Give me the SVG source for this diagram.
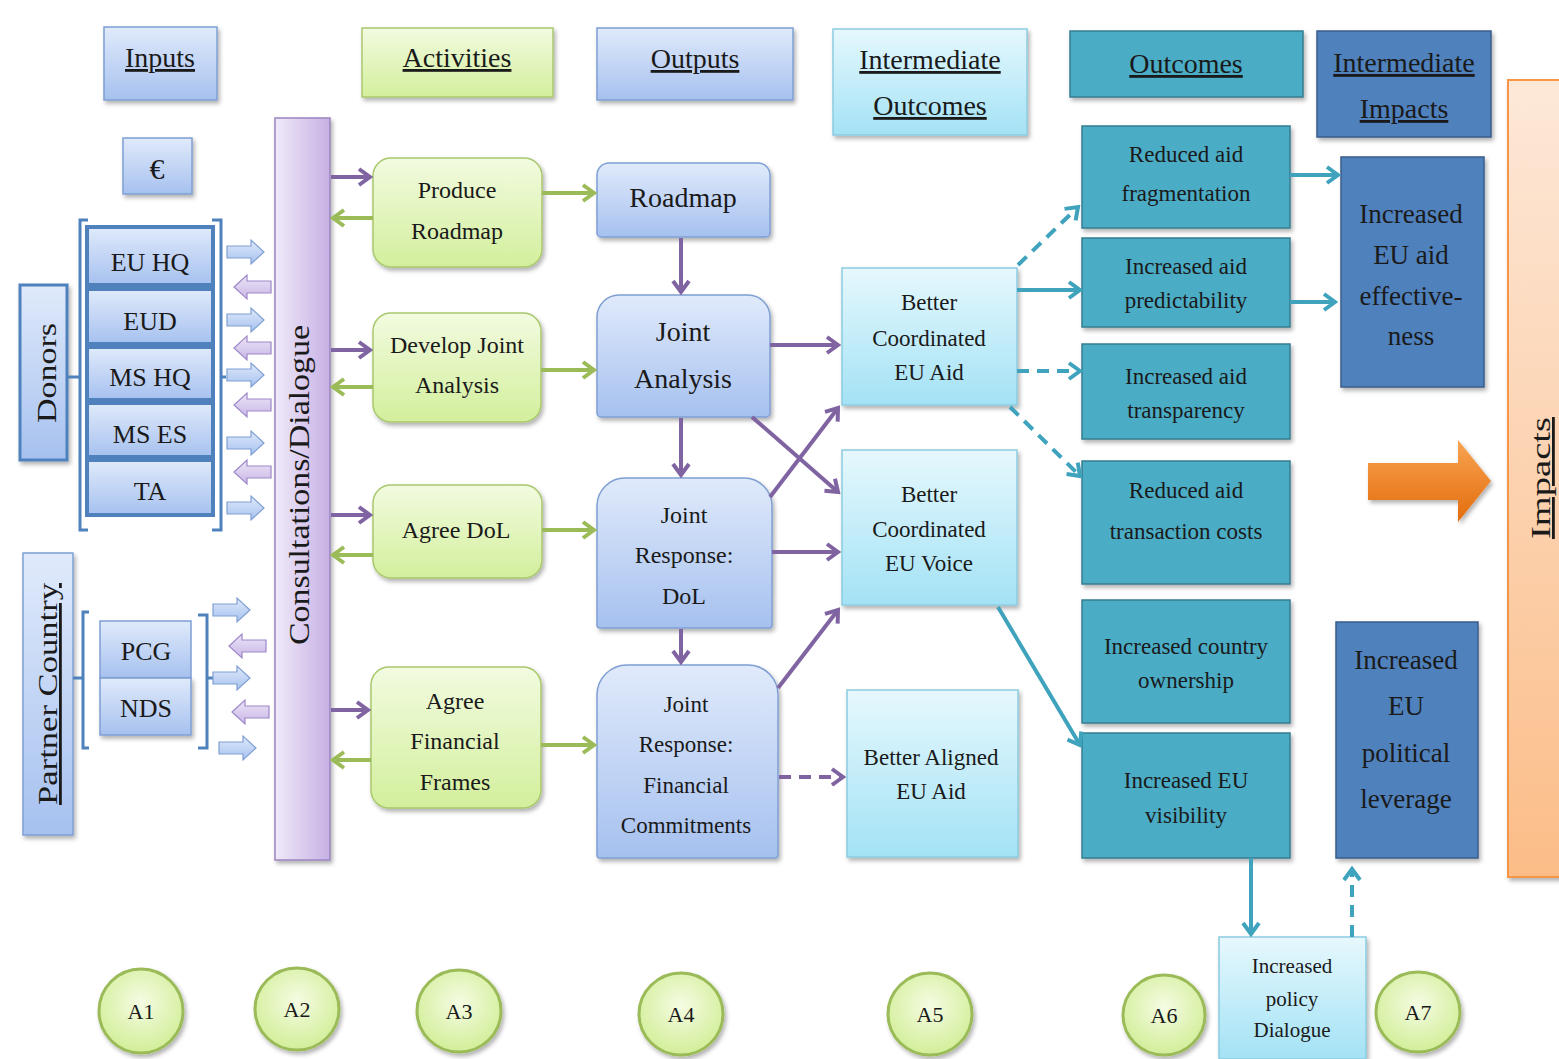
<svg xmlns="http://www.w3.org/2000/svg" width="1559" height="1059" viewBox="0 0 1559 1059">
<style>
text{font-family:"Liberation Serif","DejaVu Serif",serif;fill:#1a1a1a;text-anchor:middle}
.h{font-size:28px;text-decoration:underline}
.lb{fill:url(#gBlue);stroke:#7f9fd3;stroke-width:1.5}
.don{fill:url(#gBlue);stroke:#4f81bd;stroke-width:4}
.gr{fill:url(#gGreen);stroke:#a9c86e;stroke-width:1.5}
.cy{fill:url(#gCyan);stroke:#8ccbe0;stroke-width:1.5}
.tl{fill:#4bacc6;stroke:#357d91;stroke-width:1.5}
.bl{fill:#4f81bd;stroke:#385d8a;stroke-width:1.5}
.brk{fill:none;stroke:#4f81bd;stroke-width:3}
.cp{fill:none;stroke:#8064a2;stroke-width:4;marker-end:url(#ap)}
.cg{fill:none;stroke:#9bbb59;stroke-width:4;marker-end:url(#ag)}
.ct{fill:none;stroke:#3fa3bd;stroke-width:4;marker-end:url(#at)}
.d{stroke-dasharray:12 8}
.bra{fill:url(#gBlue);stroke:#7f9fd3;stroke-width:1.2}
.pla{fill:url(#gPurpleA);stroke:#9d87c8;stroke-width:1.2}
.el{fill:url(#gEll);stroke:#9bbb59;stroke-width:3}
.s24{font-size:24px}
.s23{font-size:23px}
.s27{font-size:27px}
</style>
<defs>
<linearGradient id="gBlue" x1="0" y1="0" x2="0" y2="1"><stop offset="0" stop-color="#e0eafb"/><stop offset="1" stop-color="#a6c1ef"/></linearGradient>
<linearGradient id="gGreen" x1="0" y1="0" x2="0" y2="1"><stop offset="0" stop-color="#f2fbe0"/><stop offset="1" stop-color="#d3ef9c"/></linearGradient>
<linearGradient id="gCyan" x1="0" y1="0" x2="0" y2="1"><stop offset="0" stop-color="#e6f8fd"/><stop offset="1" stop-color="#a3e2f5"/></linearGradient>
<linearGradient id="gPurple" x1="0" y1="0" x2="1" y2="0"><stop offset="0" stop-color="#f0eaf9"/><stop offset="1" stop-color="#c6b0e4"/></linearGradient>
<linearGradient id="gPurpleA" x1="0" y1="0" x2="0" y2="1"><stop offset="0" stop-color="#ece5f7"/><stop offset="1" stop-color="#c9b6e6"/></linearGradient>
<linearGradient id="gOrange" x1="0" y1="0" x2="0" y2="1"><stop offset="0" stop-color="#fde8d8"/><stop offset="1" stop-color="#fbbd88"/></linearGradient>
<linearGradient id="gOrArrow" x1="0" y1="0" x2="0" y2="1"><stop offset="0" stop-color="#f8a452"/><stop offset="1" stop-color="#e36c0c"/></linearGradient>
<radialGradient id="gEll" cx="0.5" cy="0.4" r="0.6"><stop offset="0" stop-color="#f5fce3"/><stop offset="1" stop-color="#d2ee98"/></radialGradient>
<filter id="sh" x="-10%" y="-10%" width="130%" height="130%"><feDropShadow dx="2" dy="3" stdDeviation="2" flood-color="#000" flood-opacity="0.3"/></filter>
<marker id="ap" markerUnits="userSpaceOnUse" markerWidth="16" markerHeight="20" refX="13" refY="10" orient="auto"><path d="M2,2 L13,10 L2,18" fill="none" stroke="#8064a2" stroke-width="4"/></marker>
<marker id="ag" markerUnits="userSpaceOnUse" markerWidth="16" markerHeight="20" refX="13" refY="10" orient="auto"><path d="M2,2 L13,10 L2,18" fill="none" stroke="#9bbb59" stroke-width="4"/></marker>
<marker id="at" markerUnits="userSpaceOnUse" markerWidth="16" markerHeight="20" refX="13" refY="10" orient="auto"><path d="M2,2 L13,10 L2,18" fill="none" stroke="#3fa3bd" stroke-width="4"/></marker>
<path id="ra" d="M0,-6 H24 V-12 L37,0 L24,12 V6 H0 Z"/>
<path id="la" d="M37,-6 H13 V-12 L0,0 L13,12 V6 H37 Z"/>
</defs>
<rect width="1559" height="1059" fill="#fff"/>

<!-- headers -->
<g id="h-inputs"><rect x="104" y="27" width="113" height="73" class="lb" filter="url(#sh)"/><text x="160" y="67" class="h">Inputs</text></g>
<g id="h-activities"><rect x="362" y="28" width="191" height="69" class="gr" filter="url(#sh)"/><text x="457" y="67" class="h">Activities</text></g>
<g id="h-outputs"><rect x="597" y="28" width="196" height="72" class="lb" filter="url(#sh)"/><text x="695" y="68" class="h">Outputs</text></g>
<g id="h-intout"><rect x="833" y="29" width="194" height="106" class="cy" filter="url(#sh)"/><text x="930" y="69" class="h">Intermediate</text><text x="930" y="115" class="h">Outcomes</text></g>
<g id="h-outcomes"><rect x="1070" y="31" width="233" height="66" class="tl" filter="url(#sh)"/><text x="1186" y="73" class="h">Outcomes</text></g>
<g id="h-intimp"><rect x="1317" y="31" width="174" height="106" class="bl" filter="url(#sh)"/><text x="1404" y="72" class="h">Intermediate</text><text x="1404" y="118" class="h">Impacts</text></g>
<g id="impacts"><rect x="1508" y="80" width="70" height="797" fill="url(#gOrange)" stroke="#f79646" stroke-width="2" filter="url(#sh)"/><text class="h" transform="translate(1550,478) rotate(-90)" textLength="122" lengthAdjust="spacingAndGlyphs">Impacts</text></g>

<!-- inputs -->
<g id="euro"><rect x="123" y="138" width="69" height="56" class="lb" filter="url(#sh)"/><text x="157" y="179" font-size="30">€</text></g>
<g id="donors"><rect x="20" y="285" width="47" height="175" fill="url(#gBlue)" stroke="#4f81bd" stroke-width="3" filter="url(#sh)"/><text transform="translate(56,373) rotate(-90)" font-size="28" textLength="100" lengthAdjust="spacingAndGlyphs">Donors</text></g>
<g id="donor-bracket"><path class="brk" d="M88,220 H80 V530 H88 M67,377 H80 M212,220 H221 V530 H212 M221,377 H226"/></g>
<g id="euhq"><rect x="87" y="227" width="126" height="58" class="don"/><text x="150" y="271" font-size="26">EU HQ</text></g>
<g id="eud"><rect x="87" y="289" width="126" height="55" class="don"/><text x="150" y="330" font-size="26">EUD</text></g>
<g id="mshq"><rect x="87" y="347" width="126" height="53" class="don"/><text x="150" y="386" font-size="26">MS HQ</text></g>
<g id="mses"><rect x="87" y="403" width="126" height="54" class="don"/><text x="150" y="443" font-size="26">MS ES</text></g>
<g id="ta"><rect x="87" y="460" width="126" height="55" class="don"/><text x="150" y="500" font-size="26">TA</text></g>

<g id="partner"><rect x="23" y="553" width="50" height="282" class="lb" filter="url(#sh)"/><text class="h" transform="translate(57,694) rotate(-90)" textLength="222" lengthAdjust="spacingAndGlyphs">Partner Country</text></g>
<g id="partner-bracket"><path class="brk" d="M89,612 H83 V748 H89 M73,678 H83 M198,615 H207 V748 H198 M207,678 H213"/></g>
<g id="pcg"><rect x="100" y="621" width="91" height="57" class="lb"/><text x="146" y="660" font-size="26">PCG</text></g>
<g id="nds"><rect x="100" y="678" width="91" height="57" class="lb" filter="url(#sh)"/><text x="146" y="717" font-size="26">NDS</text></g>

<!-- block arrows -->
<g id="exchange-arrows">
<use href="#ra" class="bra" x="227" y="252"/>
<use href="#la" class="pla" x="234" y="287"/>
<use href="#ra" class="bra" x="227" y="320"/>
<use href="#la" class="pla" x="234" y="348"/>
<use href="#ra" class="bra" x="227" y="375"/>
<use href="#la" class="pla" x="234" y="405"/>
<use href="#ra" class="bra" x="227" y="443"/>
<use href="#la" class="pla" x="234" y="472"/>
<use href="#ra" class="bra" x="227" y="508"/>
<use href="#ra" class="bra" x="213" y="610"/>
<use href="#la" class="pla" x="229" y="646"/>
<use href="#ra" class="bra" x="213" y="678"/>
<use href="#la" class="pla" x="232" y="712"/>
<use href="#ra" class="bra" x="219" y="748"/>
</g>

<!-- consultations bar -->
<g id="consultations"><rect x="275" y="118" width="55" height="742" fill="url(#gPurple)" stroke="#9a84c0" stroke-width="1.5" filter="url(#sh)"/><text transform="translate(309,485) rotate(-90)" font-size="30" textLength="320" lengthAdjust="spacingAndGlyphs">Consultations/Dialogue</text></g>

<!-- activities -->
<g id="act-roadmap"><rect x="373" y="158" width="169" height="109" rx="18" class="gr" filter="url(#sh)"/><text x="457" y="198" class="s24">Produce</text><text x="457" y="239" class="s24">Roadmap</text></g>
<g id="act-analysis"><rect x="373" y="313" width="168" height="109" rx="18" class="gr" filter="url(#sh)"/><text x="457" y="353" class="s24">Develop Joint</text><text x="457" y="393" class="s24">Analysis</text></g>
<g id="act-dol"><rect x="373" y="485" width="169" height="93" rx="18" class="gr" filter="url(#sh)"/><text x="456" y="538" class="s24">Agree DoL</text></g>
<g id="act-financial"><rect x="371" y="667" width="170" height="141" rx="18" class="gr" filter="url(#sh)"/><text x="455" y="709" class="s24">Agree</text><text x="455" y="749" class="s24">Financial</text><text x="455" y="790" class="s24">Frames</text></g>

<!-- outputs -->
<g id="out-roadmap"><path d="M609,163 H758 A12 12 0 0 1 770,175 V233 A4 4 0 0 1 766,237 H601 A4 4 0 0 1 597,233 V175 A12 12 0 0 1 609,163 Z" class="lb" filter="url(#sh)"/><text x="683" y="207" font-size="28">Roadmap</text></g>
<g id="out-analysis"><path d="M619,295 H748 A22 22 0 0 1 770,317 V413 A4 4 0 0 1 766,417 H601 A4 4 0 0 1 597,413 V317 A22 22 0 0 1 619,295 Z" class="lb" filter="url(#sh)"/><text x="683" y="341" font-size="28">Joint</text><text x="683" y="388" font-size="28">Analysis</text></g>
<g id="out-dol"><path d="M625,478 H744 A28 28 0 0 1 772,506 V625 A3 3 0 0 1 769,628 H600 A3 3 0 0 1 597,625 V506 A28 28 0 0 1 625,478 Z" class="lb" filter="url(#sh)"/><text x="684" y="523" class="s24">Joint</text><text x="684" y="563" class="s24">Response:</text><text x="684" y="604" class="s24">DoL</text></g>
<g id="out-financial"><path d="M627,665 H748 A30 30 0 0 1 778,695 V855 A3 3 0 0 1 775,858 H600 A3 3 0 0 1 597,855 V695 A30 30 0 0 1 627,665 Z" class="lb" filter="url(#sh)"/><text x="686" y="712" class="s23">Joint</text><text x="686" y="752" class="s23">Response:</text><text x="686" y="793" class="s23">Financial</text><text x="686" y="833" class="s23">Commitments</text></g>

<!-- intermediate outcomes -->
<g id="io-aid"><rect x="842" y="268" width="175" height="137" class="cy" filter="url(#sh)"/><text x="929" y="310" class="s23">Better</text><text x="929" y="346" class="s23">Coordinated</text><text x="929" y="380" class="s23">EU Aid</text></g>
<g id="io-voice"><rect x="842" y="450" width="175" height="155" class="cy" filter="url(#sh)"/><text x="929" y="502" class="s23">Better</text><text x="929" y="537" class="s23">Coordinated</text><text x="929" y="571" class="s23">EU Voice</text></g>
<g id="io-aligned"><rect x="847" y="690" width="171" height="167" class="cy" filter="url(#sh)"/><text x="931" y="765" class="s23">Better Aligned</text><text x="931" y="799" class="s23">EU Aid</text></g>
<g id="io-dialogue"><rect x="1219" y="937" width="147" height="122" class="cy" filter="url(#sh)"/><text x="1292" y="973" font-size="21">Increased</text><text x="1292" y="1006" font-size="21">policy</text><text x="1292" y="1037" font-size="21">Dialogue</text></g>

<!-- outcomes -->
<g id="oc-frag"><rect x="1082" y="126" width="208" height="102" class="tl" filter="url(#sh)"/><text x="1186" y="162" class="s23">Reduced aid</text><text x="1186" y="201" class="s23">fragmentation</text></g>
<g id="oc-pred"><rect x="1082" y="238" width="208" height="89" class="tl" filter="url(#sh)"/><text x="1186" y="274" class="s23">Increased aid</text><text x="1186" y="308" class="s23">predictability</text></g>
<g id="oc-transp"><rect x="1082" y="344" width="208" height="95" class="tl" filter="url(#sh)"/><text x="1186" y="384" class="s23">Increased aid</text><text x="1186" y="418" class="s23">transparency</text></g>
<g id="oc-cost"><rect x="1082" y="461" width="208" height="123" class="tl" filter="url(#sh)"/><text x="1186" y="498" class="s23">Reduced aid</text><text x="1186" y="539" class="s23">transaction costs</text></g>
<g id="oc-own"><rect x="1082" y="600" width="208" height="123" class="tl" filter="url(#sh)"/><text x="1186" y="654" class="s23">Increased country</text><text x="1186" y="688" class="s23">ownership</text></g>
<g id="oc-vis"><rect x="1082" y="733" width="208" height="125" class="tl" filter="url(#sh)"/><text x="1186" y="788" class="s23">Increased EU</text><text x="1186" y="823" class="s23">visibility</text></g>

<!-- intermediate impacts -->
<g id="ii-eff"><rect x="1341" y="157" width="143" height="230" class="bl" filter="url(#sh)"/><text x="1411" y="223" class="s27">Increased</text><text x="1411" y="264" class="s27">EU aid</text><text x="1411" y="305" class="s27">effective-</text><text x="1411" y="345" class="s27">ness</text></g>
<g id="ii-lev"><rect x="1336" y="622" width="142" height="236" class="bl" filter="url(#sh)"/><text x="1406" y="669" class="s27">Increased</text><text x="1406" y="715" class="s27">EU</text><text x="1406" y="762" class="s27">political</text><text x="1406" y="808" class="s27">leverage</text></g>

<g id="big-arrow"><path d="M1368,463 H1458 V440 L1491,481 L1458,522 V500 H1368 Z" fill="url(#gOrArrow)" filter="url(#sh)"/></g>

<!-- labels A1..A7 -->
<g id="a1"><ellipse cx="141" cy="1011" rx="42" ry="42" class="el" filter="url(#sh)"/><text x="141" y="1019" font-size="22">A1</text></g>
<g id="a2"><ellipse cx="297" cy="1009" rx="42" ry="41" class="el" filter="url(#sh)"/><text x="297" y="1017" font-size="22">A2</text></g>
<g id="a3"><ellipse cx="459" cy="1011" rx="42" ry="41" class="el" filter="url(#sh)"/><text x="459" y="1019" font-size="22">A3</text></g>
<g id="a4"><ellipse cx="681" cy="1014" rx="42" ry="41" class="el" filter="url(#sh)"/><text x="681" y="1022" font-size="22">A4</text></g>
<g id="a5"><ellipse cx="930" cy="1014" rx="42" ry="41" class="el" filter="url(#sh)"/><text x="930" y="1022" font-size="22">A5</text></g>
<g id="a6"><ellipse cx="1164" cy="1015" rx="41" ry="40" class="el" filter="url(#sh)"/><text x="1164" y="1023" font-size="22">A6</text></g>
<g id="a7"><ellipse cx="1418" cy="1012" rx="42" ry="40" class="el" filter="url(#sh)"/><text x="1418" y="1020" font-size="22">A7</text></g>

<!-- connectors -->
<g id="connectors">
<path class="cp" d="M331,177 H370"/>
<path class="cp" d="M331,350 H370"/>
<path class="cp" d="M331,515 H370"/>
<path class="cp" d="M331,710 H368"/>
<path class="cg" d="M373,218 H333"/>
<path class="cg" d="M373,387 H333"/>
<path class="cg" d="M373,555 H333"/>
<path class="cg" d="M371,760 H333"/>
<path class="cg" d="M542,193 H594"/>
<path class="cg" d="M541,370 H594"/>
<path class="cg" d="M542,530 H594"/>
<path class="cg" d="M541,745 H594"/>
<path class="cp" d="M681,238 V292"/>
<path class="cp" d="M681,418 V475"/>
<path class="cp" d="M681,629 V662"/>
<path class="cp" d="M770,345 H838"/>
<path class="cp" d="M752,417 L838,492"/>
<path class="cp" d="M770,497 L838,408"/>
<path class="cp" d="M772,552 H838"/>
<path class="cp" d="M778,688 L838,610"/>
<path class="cp d" d="M779,777 H843"/>
<path class="ct d" d="M1018,265 L1078,207"/>
<path class="ct" d="M1017,290 H1080"/>
<path class="ct d" d="M1017,371 H1080"/>
<path class="ct d" d="M1010,407 L1080,476"/>
<path class="ct" d="M998,607 L1080,745"/>
<path class="ct" d="M1290,175 H1338"/>
<path class="ct" d="M1290,302 H1335"/>
<path class="ct" d="M1251,858 V934"/>
<path class="ct d" d="M1352,937 V869"/>
</g>
</svg>
